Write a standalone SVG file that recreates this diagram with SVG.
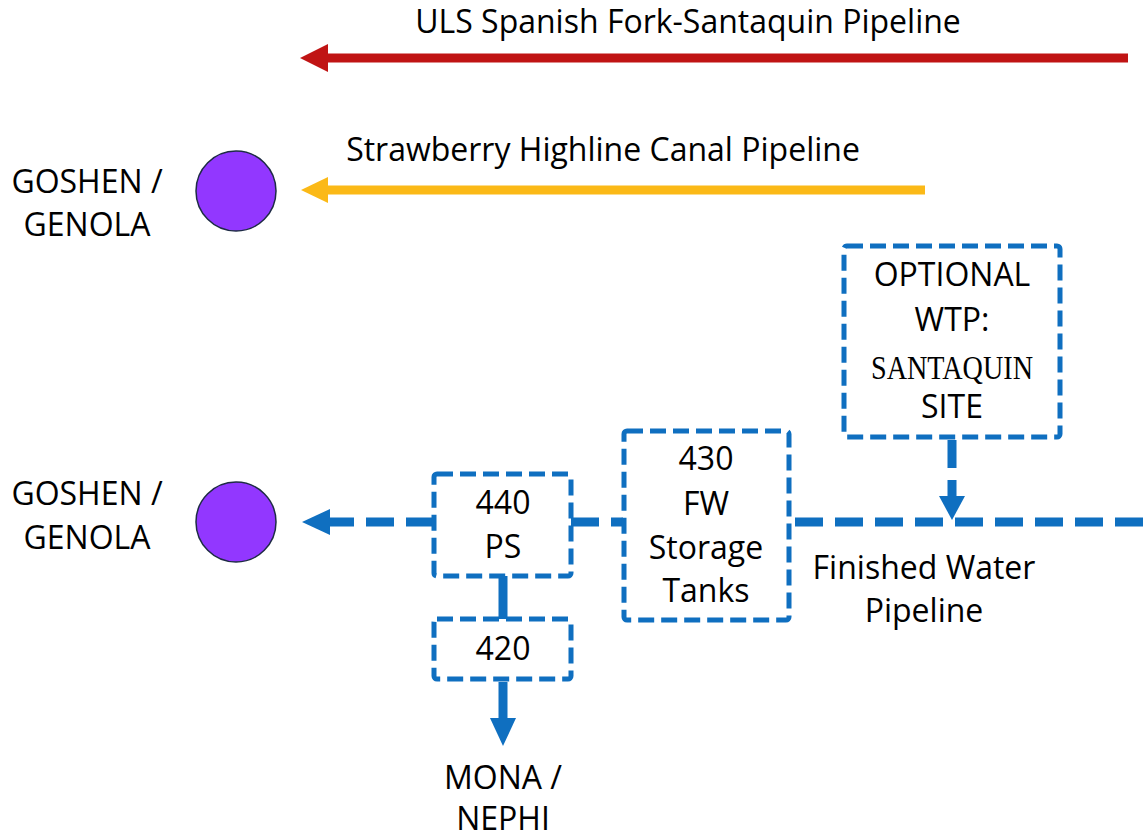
<svg xmlns="http://www.w3.org/2000/svg" width="1143" height="839" viewBox="0 0 1143 839">
  <style>
    .lbl { font-family: "Open Sans", Lato, "Liberation Sans", sans-serif; font-size: 32px; fill: #000; text-anchor: middle; }
    .serif { font-family: "Liberation Serif", "Times New Roman", serif; font-size: 34px; fill: #000; text-anchor: middle; }
    .box { fill: #fff; stroke: #0F6FC0; stroke-width: 5; stroke-dasharray: 16 7; }
    .pipe { fill: none; stroke: #0F6FC0; stroke-width: 9; stroke-dasharray: 28 12; }
    .stub { fill: none; stroke: #0F6FC0; stroke-width: 9; }
    .site { fill: #9237FF; stroke: #1E2B45; stroke-width: 1.5; }
  </style>

  <!-- Delivery sites -->
  <g id="goshen-genola-upper">
    <circle class="site" cx="236" cy="191" r="40"/>
    <text class="lbl" x="87" y="193">GOSHEN /</text>
    <text class="lbl" x="87" y="236">GENOLA</text>
  </g>
  <g id="goshen-genola-lower">
    <circle class="site" cx="236" cy="522" r="40"/>
    <text class="lbl" x="87" y="505">GOSHEN /</text>
    <text class="lbl" x="87" y="549">GENOLA</text>
  </g>

  <!-- Pipelines and flow connectors -->
  <g id="connectors">
    <!-- ULS Spanish Fork-Santaquin Pipeline -->
    <line x1="1128" y1="58" x2="326" y2="58" stroke="#C01414" stroke-width="9"/>
    <path d="M300,58 L328,44 L328,72 Z" fill="#C01414"/>
    <text class="lbl" x="688" y="33">ULS Spanish Fork-Santaquin Pipeline</text>

    <!-- Strawberry Highline Canal Pipeline -->
    <line x1="925" y1="190" x2="326" y2="190" stroke="#FBB917" stroke-width="9"/>
    <path d="M301,190 L328,177 L328,203 Z" fill="#FBB917"/>
    <text class="lbl" x="603" y="161">Strawberry Highline Canal Pipeline</text>

    <!-- Finished water pipeline -->
    <line class="pipe" x1="1143" y1="522" x2="790" y2="522"/>
    <line class="pipe" x1="571" y1="522" x2="623" y2="522"/>
    <line class="pipe" x1="434" y1="522" x2="330" y2="522"/>
    <path d="M302,522 L330,509 L330,535 Z" fill="#0F6FC0"/>

    <!-- Optional WTP feed -->
    <line class="pipe" x1="952" y1="440" x2="952" y2="498" stroke-dasharray="24 10"/>
    <path d="M952,520 L939,496 L965,496 Z" fill="#0F6FC0"/>

    <!-- PS to 420 -->
    <line class="stub" x1="503" y1="576" x2="503" y2="619"/>
    <!-- 420 to Mona / Nephi -->
    <line class="stub" x1="503" y1="682" x2="503" y2="718"/>
    <path d="M503,746 L490,718 L516,718 Z" fill="#0F6FC0"/>

    <text class="lbl" x="924" y="579">Finished Water</text>
    <text class="lbl" x="924" y="622">Pipeline</text>
  </g>

  <!-- Facilities -->
  <g id="optional-wtp">
    <rect class="box" x="844" y="246" width="216" height="191" rx="3"/>
    <text class="lbl" x="952" y="286">OPTIONAL</text>
    <text class="lbl" x="952" y="331">WTP:</text>
    <text class="serif" x="952" y="379" textLength="162" lengthAdjust="spacingAndGlyphs">SANTAQUIN</text>
    <text class="lbl" x="952" y="418">SITE</text>
  </g>
  <g id="storage-430">
    <rect class="box" x="624" y="431" width="165" height="189" rx="3"/>
    <text class="lbl" x="706" y="470">430</text>
    <text class="lbl" x="706" y="515">FW</text>
    <text class="lbl" x="706" y="559">Storage</text>
    <text class="lbl" x="706" y="602">Tanks</text>
  </g>
  <g id="ps-440">
    <rect class="box" x="434" y="474" width="137" height="102" rx="3"/>
    <text class="lbl" x="503" y="514">440</text>
    <text class="lbl" x="503" y="558">PS</text>
  </g>
  <g id="node-420">
    <rect class="box" x="434" y="619" width="137" height="60" rx="3"/>
    <text class="lbl" x="503" y="660">420</text>
  </g>
  <g id="mona-nephi">
    <text class="lbl" x="503" y="789">MONA /</text>
    <text class="lbl" x="503" y="830">NEPHI</text>
  </g>
</svg>
